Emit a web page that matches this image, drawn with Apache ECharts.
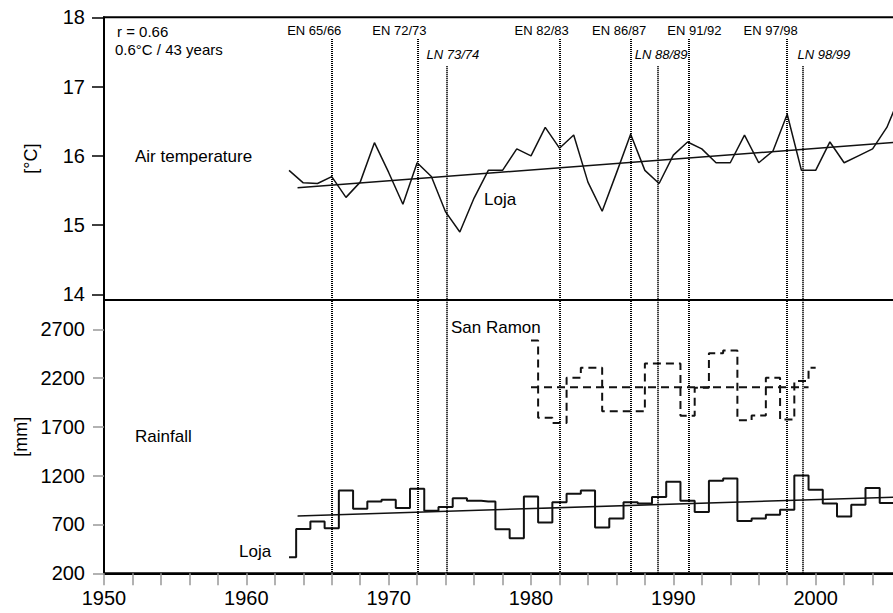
<!DOCTYPE html>
<html><head><meta charset="utf-8">
<script src="https://cdn.jsdelivr.net/npm/echarts@6/dist/echarts.min.js"></script>
<style>html,body{margin:0;padding:0;background:#fff}#c{width:893px;height:613px}</style>
</head><body><div id="c"></div>
<script>
// ---------- data ----------
const years = [1963,1964,1965,1966,1967,1968,1969,1970,1971,1972,1973,1974,1975,1976,1977,1978,1979,1980,1981,1982,1983,1984,1985,1986,1987,1988,1989,1990,1991,1992,1993,1994,1995,1996,1997,1998,1999,2000,2001,2002,2003,2004,2005,2006];
const lojaTemp = [15.79,15.61,15.60,15.70,15.40,15.62,16.19,15.76,15.30,15.90,15.70,15.19,14.90,15.39,15.79,15.79,16.10,16.00,16.41,16.11,16.30,15.62,15.20,15.75,16.31,15.79,15.60,16.01,16.20,16.10,15.90,15.90,16.30,15.90,16.07,16.60,15.79,15.79,16.20,15.90,16.00,16.10,16.41,16.90];
const lojaRain = [364,655,730,662,1049,861,936,953,868,1066,840,880,970,943,936,652,560,987,720,929,1015,1049,669,761,929,915,981,1138,943,827,1148,1172,737,761,799,850,1203,1056,915,782,902,1073,919,919];
const tempTrendYears = [1963.6, 2006];
const tempTrendValues = [15.54, 16.20];
const rainTrendYears = [1963.6, 2006];
const rainTrendValues = [787, 982];
const sanRamonPeriodStart = [1980.0,1980.5,1981.5,1982.5,1983.5,1985.0,1988.0,1990.5,1991.5,1992.5,1993.5,1994.5,1995.5,1996.5,1997.5,1998.5,1999.5];
const sanRamonRain = [2585,1793,1741,2204,2307,1860,2350,1815,2100,2455,2482,1768,1816,2204,1775,2169,2307];
const sanRamonEnd = 2000.0;
const sanRamonMeanYears = [1980.0, 1999.5];
const sanRamonMean = 2105;
const ensoNames = ['EN 65/66','EN 72/73','LN 73/74','EN 82/83','EN 86/87','LN 88/89','EN 91/92','EN 97/98','LN 98/99'];
const ensoYears = [1966.0,1972.05,1974.05,1982.0,1987.0,1988.9,1991.1,1998.0,1999.1];
const tempTicks = [14,15,16,17,18];
const rainTicks = [200,700,1200,1700,2200,2700];
const yearLabels = [1950,1960,1970,1980,1990,2000];

// ---------- presentation ----------
const FONT = "'Liberation Sans', Arial, sans-serif";
const ensoLabelShift = [-17.5,-18.5,6.5,-17.8,-11.5,3.5,5.4,-16.5,21];
const ensoLineTop = {EN: 0.961, LN: 0.912};   // fraction of full plot height
const plain = v => String(v);

const pair = (xs, ys) => xs.map((x, i) => [x, ys[i]]);
const tempData = pair(years, lojaTemp);
const rainData = pair(years, lojaRain);
const srData = pair(sanRamonPeriodStart, sanRamonRain).concat([[sanRamonEnd, sanRamonRain[sanRamonRain.length-1]]]);
const srMeanData = sanRamonMeanYears.map(x => [x, sanRamonMean]);

const gridLeft = 104, gridWidth = 854;
const xBase = {type:'value', min:1950, max:2010, interval:2};

const ensoMarks = ensoNames.map((n, i) => {
  const isLN = n.startsWith('LN');
  return [
    {name:n, coord:[ensoYears[i], isLN ? ensoLineTop.LN : ensoLineTop.EN],
     label:{show:true, position:'start', formatter:'{b}', distance:isLN?5:2, offset:[ensoLabelShift[i],0],
            fontSize:13, fontFamily:FONT, color:'#000', fontStyle:isLN?'italic':'normal'}},
    {coord:[ensoYears[i], 0]}
  ];
});

const chart = echarts.init(document.getElementById('c'), null, {renderer:'svg'});
chart.setOption({
  animation:false,
  backgroundColor:'#fff',
  textStyle:{fontFamily:FONT},
  grid:[
    {left:gridLeft, top:17.3, width:gridWidth, height:282.7, show:true, borderColor:'#000', borderWidth:2, backgroundColor:'transparent', outerBoundsMode:'none', containLabel:false},
    {left:gridLeft, top:300, width:gridWidth, height:273.3, show:true, borderColor:'#000', borderWidth:2, backgroundColor:'transparent', outerBoundsMode:'none', containLabel:false},
    {left:gridLeft, top:17.3, width:gridWidth, height:556, outerBoundsMode:'none', containLabel:false}
  ],
  xAxis:[
    Object.assign({gridIndex:0, show:false}, xBase),
    Object.assign({gridIndex:1,
      axisLine:{show:true, lineStyle:{color:'#000', width:2}},
      axisTick:{show:true, length:12, lineStyle:{color:'#999', width:1.5}},
      axisLabel:{customValues:yearLabels, formatter:plain, fontSize:20, color:'#000', margin:15, fontFamily:FONT},
      splitLine:{show:false}}, xBase),
    Object.assign({gridIndex:2, show:false}, xBase)
  ],
  yAxis:[
    {gridIndex:0, type:'value', min:13.918, max:18,
     name:'[°C]', nameLocation:'middle', nameGap:64, nameRotate:90, nameTextStyle:{fontSize:18, color:'#000', fontFamily:FONT},
     axisLine:{show:true, lineStyle:{color:'#000', width:2}},
     axisTick:{show:true, customValues:tempTicks, length:12, lineStyle:{color:'#000', width:1.5}},
     axisLabel:{customValues:tempTicks, formatter:plain, fontSize:20, color:'#000', margin:19, fontFamily:FONT},
     splitLine:{show:false}},
    {gridIndex:1, type:'value', min:200, max:3000,
     name:'[mm]', nameLocation:'middle', nameGap:74, nameRotate:90, nameTextStyle:{fontSize:18, color:'#000', fontFamily:FONT},
     axisLine:{show:true, lineStyle:{color:'#000', width:2}},
     axisTick:{show:true, customValues:rainTicks, length:11, lineStyle:{color:'#999', width:1.5}},
     axisLabel:{customValues:rainTicks, formatter:plain, fontSize:20, color:'#000', margin:19, fontFamily:FONT},
     splitLine:{show:false}},
    {gridIndex:2, type:'value', min:0, max:1, show:false}
  ],
  series:[
    {type:'line', xAxisIndex:0, yAxisIndex:0, data:tempData, symbol:'none', lineStyle:{color:'#111', width:1.5}},
    {type:'line', xAxisIndex:0, yAxisIndex:0, data:pair(tempTrendYears, tempTrendValues), symbol:'none', lineStyle:{color:'#111', width:1.5}},
    {type:'line', xAxisIndex:1, yAxisIndex:1, data:rainData, step:'middle', symbol:'none', lineStyle:{color:'#111', width:2}},
    {type:'line', xAxisIndex:1, yAxisIndex:1, data:pair(rainTrendYears, rainTrendValues), symbol:'none', lineStyle:{color:'#111', width:1.5}},
    {type:'line', xAxisIndex:1, yAxisIndex:1, data:srData, step:'end', symbol:'none', lineStyle:{color:'#111', width:2, type:[8,5]}},
    {type:'line', xAxisIndex:1, yAxisIndex:1, data:srMeanData, symbol:'none', lineStyle:{color:'#111', width:2, type:[8,5]}},
    {type:'line', xAxisIndex:2, yAxisIndex:2, data:[[1950,0]], symbol:'none', lineStyle:{opacity:0}, silent:true,
     markLine:{silent:true, symbol:['none','none'], lineStyle:{color:'#000', width:2, type:[1,1]}, data:ensoMarks}}
  ],
  graphic:[
    {type:'text', left:117, top:24, style:{text:'r = 0.66', font:'15px '+FONT, fill:'#000'}},
    {type:'text', left:115, top:42, style:{text:'0.6°C / 43 years', font:'15px '+FONT, fill:'#000'}},
    {type:'text', left:135, top:148, style:{text:'Air temperature', font:'17px '+FONT, fill:'#000'}},
    {type:'text', left:484, top:191, style:{text:'Loja', font:'17px '+FONT, fill:'#000'}},
    {type:'text', left:451, top:319, style:{text:'San Ramon', font:'17px '+FONT, fill:'#000'}},
    {type:'text', left:135, top:428, style:{text:'Rainfall', font:'17px '+FONT, fill:'#000'}},
    {type:'text', left:239, top:543, style:{text:'Loja', font:'17px '+FONT, fill:'#000'}}
  ]
});
</script></body></html>
